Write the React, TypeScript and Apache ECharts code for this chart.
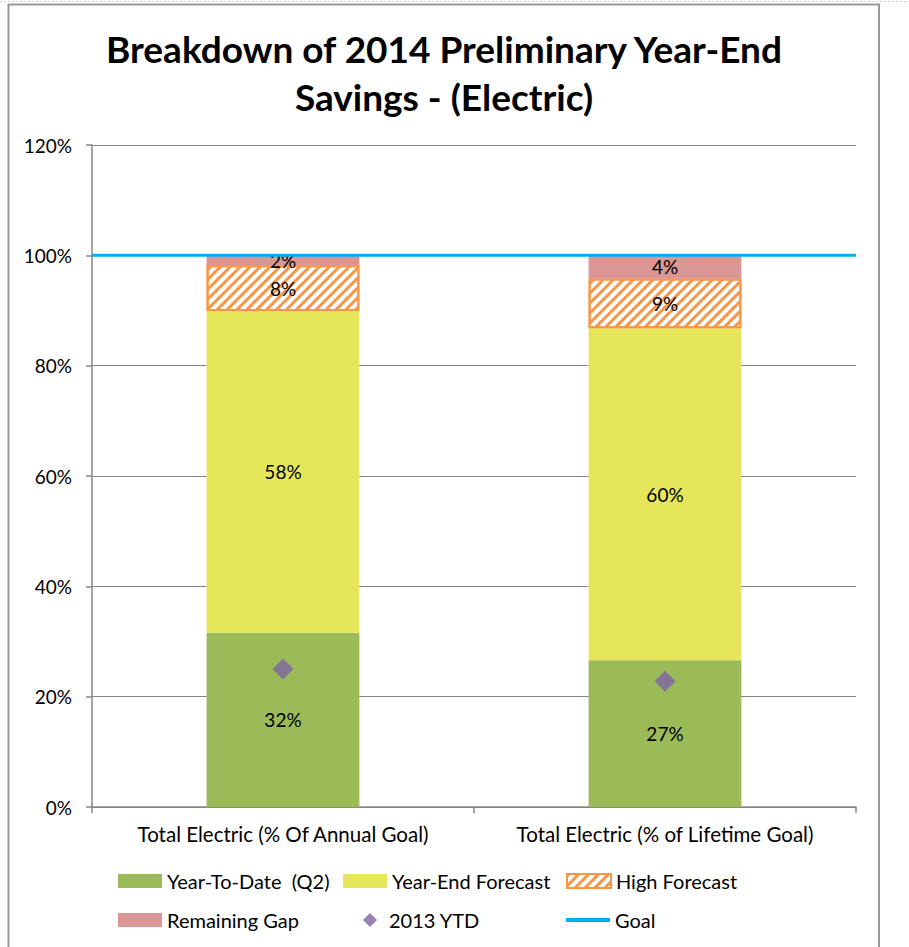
import React, { useEffect, useRef } from "react";
import * as echarts from "echarts";

const categories = ["Total Electric (% Of Annual Goal)", "Total Electric (% of Lifetime Goal)"];
const yearToDate = [31.6, 26.6];
const yearEndForecast = [58.3, 60.2];
const highForecast = [8.3, 9.0];
const remainingGap = [1.8, 4.2];
const ytd2013 = [25.0, 22.8];
const goal = 100;
const yTicks = [0, 20, 40, 60, 80, 100, 120];

const FONT = "Lato, 'Open Sans', sans-serif";

export default function App() {
  const ref = useRef<HTMLDivElement>(null);
  useEffect(() => {
    if (!ref.current) return;
    const chart = echarts.init(ref.current, undefined, { renderer: "svg" });
    const pct = (p: any) => `${Math.round(p.value)}%`;
    const label = { show: true, position: "inside", formatter: pct, color: "#000", fontSize: 19, fontFamily: FONT };
    const legendBase = {
      orient: "horizontal",
      padding: 0,
      itemWidth: 44,
      itemHeight: 14,
      textStyle: { fontSize: 20, fontFamily: FONT, color: "#000", lineHeight: 24 },
    };
    chart.setOption({
      animation: false,
      textStyle: { fontFamily: FONT },
      graphic: [
        {
          type: "line",
          shape: { x1: 0, y1: 1.5, x2: 909, y2: 1.5 },
          style: { stroke: "#d0d0d0", lineWidth: 1, lineDash: [2, 2] },
          silent: true,
        },
        {
          type: "rect",
          shape: { x: 8.5, y: 4.5, width: 870.5, height: 1000 },
          style: { fill: "none", stroke: "#9a9a9a", lineWidth: 2 },
          silent: true,
        },
        {
          type: "text",
          x: 444,
          y: 72,
          style: {
            text: "Breakdown of 2014 Preliminary Year-End\nSavings - (Electric)",
            textAlign: "center",
            textVerticalAlign: "middle",
            font: `bold 37px ${FONT}`,
            lineHeight: 48,
            fill: "#000",
          },
        },
      ],
      grid: { left: 92, right: 53, top: 145, bottom: 140, containLabel: false },
      legend: [
        { ...legendBase, left: 118, top: 869, data: [{ name: "Year-To-Date  (Q2)", icon: "rect" }] },
        { ...legendBase, left: 343, top: 869, data: [{ name: "Year-End Forecast", icon: "rect" }] },
        { ...legendBase, left: 566, top: 869, data: [{ name: "High Forecast", icon: "rect" }] },
        { ...legendBase, left: 118, top: 908, data: [{ name: "Remaining Gap", icon: "rect" }] },
        {
          ...legendBase,
          left: 363,
          top: 908,
          itemWidth: 14,
          itemHeight: 14,
          textStyle: { ...legendBase.textStyle, padding: [0, 0, 0, 7] },
          data: [{ name: "2013 YTD", icon: "diamond" }],
        },
        { ...legendBase, left: 566, top: 908, itemHeight: 4, data: [{ name: "Goal", icon: "rect" }] },
      ],
      xAxis: [
        {
          type: "category",
          data: categories,
          axisLine: { lineStyle: { color: "#868686", width: 1.5 } },
          axisTick: { show: true, length: 6, lineStyle: { color: "#868686", width: 1.5 } },
          axisLabel: { color: "#000", fontSize: 20.5, fontFamily: FONT, margin: 16, interval: 0, hideOverlap: false },
        },
        { type: "value", min: 0, max: 1, show: false },
      ],
      yAxis: {
        type: "value",
        min: yTicks[0],
        max: yTicks[yTicks.length - 1],
        interval: yTicks[1] - yTicks[0],
        axisLine: { show: true, lineStyle: { color: "#868686", width: 1.5 } },
        axisTick: { show: true, length: 6, lineStyle: { color: "#868686", width: 1.5 } },
        splitLine: { lineStyle: { color: "#868686", width: 1 } },
        axisLabel: { color: "#000", fontSize: 19, fontFamily: FONT, margin: 20, formatter: "{value}%" },
      },
      series: [
        {
          name: "Year-To-Date  (Q2)",
          type: "bar",
          stack: "s",
          barWidth: "40%",
          data: yearToDate,
          itemStyle: { color: "#9BBB59" },
          label,
        },
        {
          name: "Year-End Forecast",
          type: "bar",
          stack: "s",
          data: yearEndForecast,
          itemStyle: { color: "#E6E65A" },
          label,
        },
        {
          name: "High Forecast",
          type: "bar",
          stack: "s",
          data: highForecast,
          itemStyle: {
            color: "#ffffff",
            borderColor: "#F79646",
            borderWidth: 2,
            decal: {
              symbol: "rect",
              symbolSize: 1,
              color: "#F79646",
              dashArrayX: [1, 0],
              dashArrayY: [3, 4],
              rotation: -Math.PI / 4,
            },
          },
          label,
        },
        {
          name: "Remaining Gap",
          type: "bar",
          stack: "s",
          data: remainingGap,
          itemStyle: { color: "#D99694" },
          label,
        },
        {
          name: "2013 YTD",
          type: "scatter",
          symbol: "diamond",
          symbolSize: 21,
          data: ytd2013,
          itemStyle: { color: "#8064A2" },
          z: 5,
        },
        {
          name: "Goal",
          type: "line",
          xAxisIndex: 1,
          symbol: "none",
          data: [
            [0, goal],
            [1, goal],
          ],
          lineStyle: { color: "#00B0F0", width: 3 },
          itemStyle: { color: "#00B0F0" },
          z: 6,
        },
      ],
    });
    return () => chart.dispose();
  }, []);
  return (
    <div
      ref={ref}
      style={{ position: "fixed", left: 0, top: 0, width: 909, height: 947, background: "#fff" }}
    />
  );
}
